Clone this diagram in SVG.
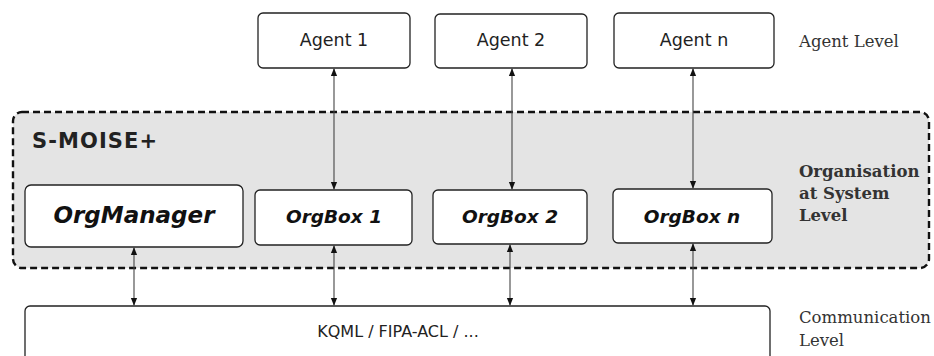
<svg xmlns="http://www.w3.org/2000/svg" width="934" height="356" viewBox="0 0 934 356">
<style>
.box{fill:#fff;stroke:#222;stroke-width:1.3}
.sans{font-family:"DejaVu Sans","Liberation Sans",sans-serif;fill:#222}
.serif{font-family:"DejaVu Serif","Liberation Serif",serif;fill:#333}
.org{font-family:"DejaVu Sans","Liberation Sans",sans-serif;font-weight:bold;font-style:italic;fill:#111}
.conn{stroke:#444;stroke-width:1.1;fill:none;marker-start:url(#ah);marker-end:url(#ah)}
</style>
<defs>
<marker id="ah" viewBox="0 0 10 10" refX="9" refY="5" markerWidth="8" markerHeight="8" markerUnits="userSpaceOnUse" orient="auto-start-reverse">
<path d="M0,1 L10,5 L0,9 Z" fill="#111"/>
</marker>
</defs>
<rect width="934" height="356" fill="#fff"/>
<g id="system">
<rect x="13" y="112" width="916" height="156" rx="9" fill="#e4e4e4" stroke="#111" stroke-width="2.4" stroke-dasharray="7,4"/>
<text x="32" y="148" class="sans" font-weight="bold" font-size="21" fill="#111" textLength="125" lengthAdjust="spacing">S-MOISE+</text>
</g>
<g id="agent1"><rect class="box" x="258" y="13" width="152" height="55" rx="5"/><text class="sans" x="334" y="46" font-size="17.5" text-anchor="middle">Agent 1</text></g>
<g id="agent2"><rect class="box" x="435" y="14" width="152" height="54" rx="5"/><text class="sans" x="511" y="46" font-size="17.5" text-anchor="middle">Agent 2</text></g>
<g id="agentn"><rect class="box" x="614" y="13" width="160" height="55" rx="5"/><text class="sans" x="694" y="46" font-size="17.5" text-anchor="middle">Agent n</text></g>
<g id="orgmanager"><rect class="box" x="25" y="185" width="218" height="62" rx="6"/><text class="org" x="134" y="223" font-size="23" text-anchor="middle">OrgManager</text></g>
<g id="orgbox1"><rect class="box" x="255" y="190" width="157" height="55" rx="5"/><text class="org" x="334" y="223" font-size="18.5" text-anchor="middle">OrgBox 1</text></g>
<g id="orgbox2"><rect class="box" x="433" y="190" width="154" height="54" rx="5"/><text class="org" x="510" y="223" font-size="18.5" text-anchor="middle">OrgBox 2</text></g>
<g id="orgboxn"><rect class="box" x="613" y="189" width="159" height="54" rx="5"/><text class="org" x="692" y="223" font-size="18.5" text-anchor="middle">OrgBox n</text></g>
<g id="comm"><rect class="box" x="25" y="306" width="745" height="70" rx="5"/><text class="sans" x="398" y="337" font-size="16" text-anchor="middle">KQML / FIPA-ACL / ...</text></g>
<g id="labels">
<text class="serif" x="799" y="47" font-size="16.5">Agent Level</text>
<text class="serif" x="799" y="177" font-size="16.5" font-weight="bold" fill="#222">Organisation</text>
<text class="serif" x="799" y="199" font-size="16.5" font-weight="bold" fill="#222">at System</text>
<text class="serif" x="799" y="221" font-size="16.5" font-weight="bold" fill="#222">Level</text>
<text class="serif" x="799" y="323" font-size="16.5">Communication</text>
<text class="serif" x="799" y="346" font-size="16.5">Level</text>
</g>
<g id="connectors">
<line class="conn" x1="334" y1="69" x2="334" y2="189"/>
<line class="conn" x1="512" y1="69" x2="512" y2="189"/>
<line class="conn" x1="693" y1="69" x2="693" y2="188"/>
<line class="conn" x1="134" y1="248" x2="134" y2="305"/>
<line class="conn" x1="334" y1="246" x2="334" y2="305"/>
<line class="conn" x1="510" y1="245" x2="510" y2="305"/>
<line class="conn" x1="693" y1="244" x2="693" y2="305"/>
</g>
</svg>
